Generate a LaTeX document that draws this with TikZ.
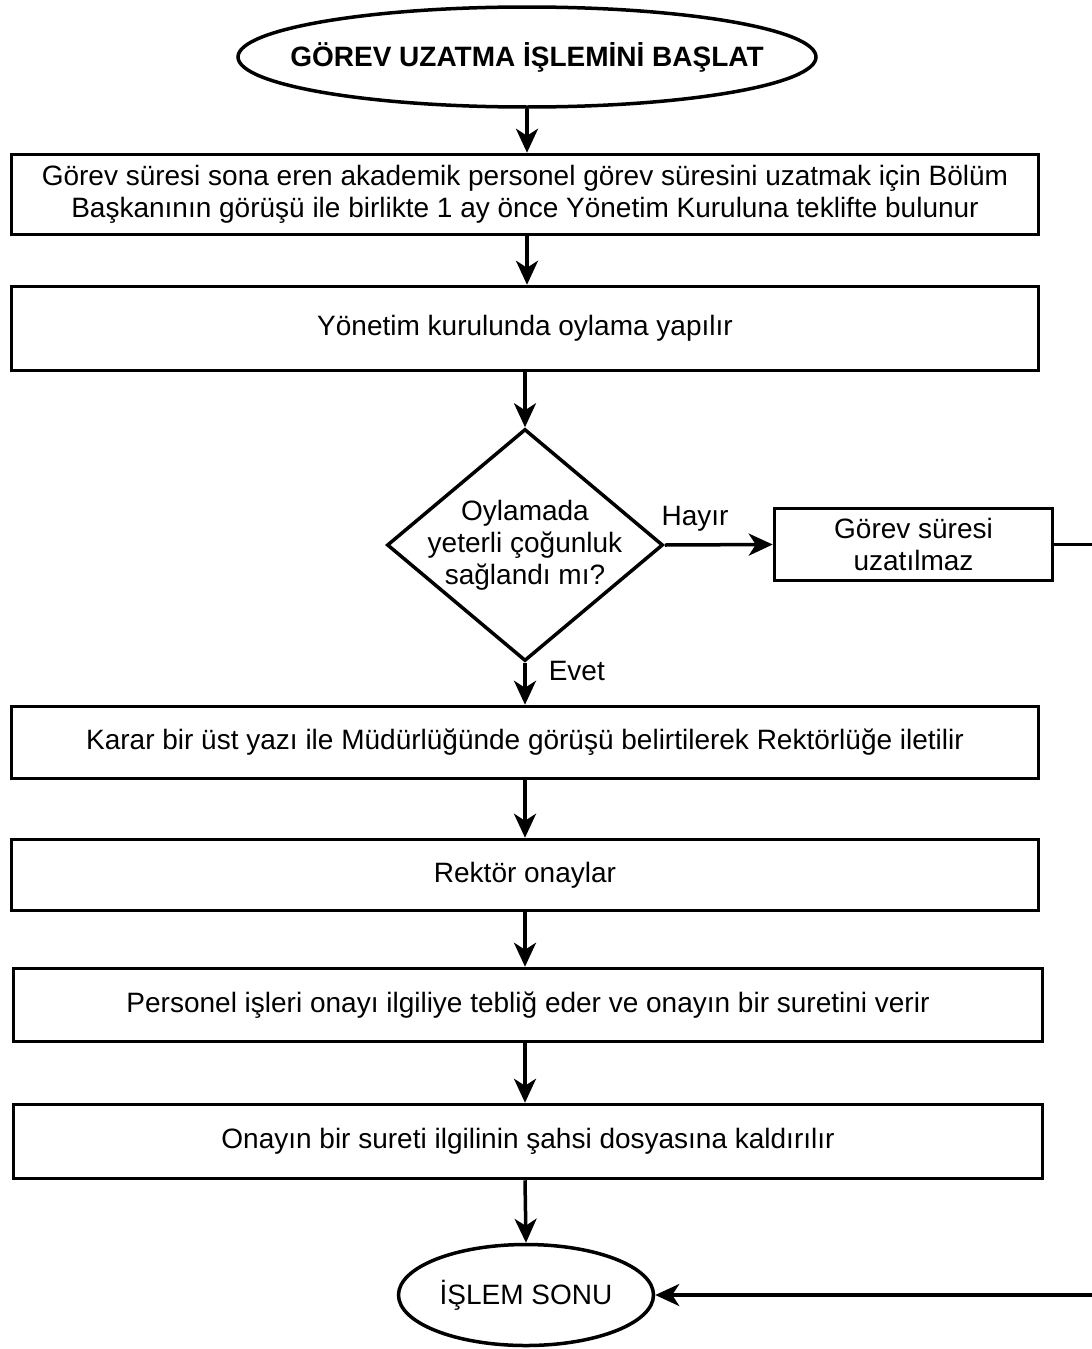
\documentclass[tikz,border=0pt]{standalone}
\usepackage{fontspec}
\setmainfont{Liberation Sans}
\usetikzlibrary{shapes.geometric,arrows.meta}
\begin{document}
\begin{tikzpicture}[x=1pt,y=-1pt,
  every node/.style={font=\fontsize{28}{32}\selectfont},
  box/.style={draw, line width=3.5pt, rectangle, inner sep=0pt, align=center, minimum width=1027pt},
  oval/.style={draw, line width=3.5pt, ellipse, inner sep=0pt, align=center},
  arr/.style={line width=3.5pt, -{Stealth[length=24pt,width=22pt,inset=7pt]}},
  lbl/.style={inner sep=0pt}
]
\useasboundingbox (0,0) rectangle (1092,1349);
\node[oval, minimum width=578pt, minimum height=100pt] (start) at (527,57) {};
\node[lbl, font=\bfseries\fontsize{28}{32}\selectfont] at (start) {GÖREV UZATMA İŞLEMİNİ BAŞLAT};
\node[box, minimum height=80pt] (b1) at (525,194.5) {Görev süresi sona eren akademik personel görev süresini uzatmak için Bölüm\\Başkanının görüşü ile birlikte 1 ay önce Yönetim Kuruluna teklifte bulunur};
\node[box, minimum height=84pt] (b2) at (525,328.5) {Yönetim kurulunda oylama yapılır};
\node[diamond, draw, line width=3.5pt, minimum width=276pt, minimum height=232pt, inner sep=0pt] (d) at (525,545) {};
\node[lbl, align=center] at (d) {Oylamada\\yeterli çoğunluk\\sağlandı mı?};
\node[box, minimum width=278pt, minimum height=72pt] (side) at (913.5,544.5) {Görev süresi\\uzatılmaz};
\node[box, minimum height=72pt] (b3) at (525,742.5) {Karar bir üst yazı ile Müdürlüğünde görüşü belirtilerek Rektörlüğe iletilir};
\node[box, minimum height=71pt] (b4) at (525,875) {Rektör onaylar};
\node[box, minimum width=1029pt, minimum height=73pt] (b5) at (528,1005) {Personel işleri onayı ilgiliye tebliğ eder ve onayın bir suretini verir};
\node[box, minimum width=1029pt, minimum height=74pt] (b6) at (528,1141.5) {Onayın bir sureti ilgilinin şahsi dosyasına kaldırılır};
\node[oval, minimum width=255pt, minimum height=101pt] (end) at (526,1295) {};
\node[lbl] at (end) {İŞLEM SONU};
\coordinate (r1) at (1097,544.5);
\coordinate (r2) at (1097,1295);

\draw[arr] (start.south) -- (start.south |- b1.north);
\draw[arr] (b1.south -| start.south) -- (start.south |- b2.north);
\draw[arr] (b2.south -| d.north) -- (d.north);
\draw[arr] (d.east) -- (side.west) node[lbl, pos=0.28, above=12pt] {Hayır};
\draw[arr] (d.south) -- (d.south |- b3.north) node[lbl, pos=0.2, right=22pt] {Evet};
\draw[arr] (b3.south -| d.south) -- (d.south |- b4.north);
\draw[arr] (b4.south -| d.south) -- (d.south |- b5.north);
\draw[arr] (b5.south -| d.south) -- (d.south |- b6.north);
\draw[arr] (b6.south -| d.south) -- (end.north);
\draw[arr] (side.east) -- (r1) -- (r2) -- (end.east);
\end{tikzpicture}
\end{document}
